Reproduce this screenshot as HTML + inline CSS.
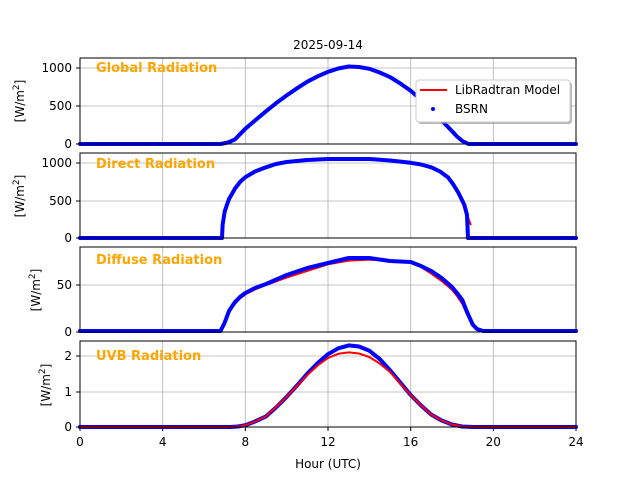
<!DOCTYPE html><html><head><style>body{margin:0;background:#fff}svg text{font-family:"DejaVu Sans","Liberation Sans",sans-serif}polyline{stroke-linejoin:round;stroke-linecap:round}</style></head><body>
<svg width="640" height="480" xmlns="http://www.w3.org/2000/svg">
<defs>
<g id="vg" stroke="#b0b0b0" stroke-width="0.8"><line x1="162.7" y1="0" x2="162.7" y2="86"/><line x1="245.3" y1="0" x2="245.3" y2="86"/><line x1="328" y1="0" x2="328" y2="86"/><line x1="410.7" y1="0" x2="410.7" y2="86"/><line x1="493.3" y1="0" x2="493.3" y2="86"/></g>
</defs>
<text x="328" y="49" font-size="12" text-anchor="middle">2025-09-14</text>
<!-- panel 1 -->
<g>
<use href="#vg" transform="translate(0,58)"/>
<g stroke="#b0b0b0" stroke-width="0.8"><line x1="80" x2="576" y1="68" y2="68"/><line x1="80" x2="576" y1="106" y2="106"/></g>
<polyline fill="none" stroke="red" stroke-width="2" points="80,144 220.5,144 228,142.5 235,139.4 245.3,128.8 255.6,120 266,111.3 276.3,103 286.7,95.4 297,88.3 307.3,81.7 317.7,76.3 328,71.8 338.3,68.5 348.7,66.5 359,67 369.3,68.8 379.7,72.5 390,77.1 400.3,83.5 410.7,90.8 421,99.8 431.3,109.8 441.7,120.5 452,131.1 457,136.5 462.3,141 468.5,144 576,144"/>
<polyline fill="none" stroke="blue" stroke-width="4" points="80,144 220.5,144 228,142.5 235,139.4 245.3,128.8 255.6,120 266,111.3 276.3,103 286.7,95.4 297,88.3 307.3,81.7 317.7,76.3 328,71.8 338.3,68.5 348.7,66.5 359,67 369.3,68.8 379.7,72.5 390,77.1 400.3,83.5 410.7,90.8 421,99.8 431.3,109.8 441.7,120.5 452,131.1 457,136.5 462.3,141 468.5,144 576,144"/>
<rect x="80" y="58" width="496" height="86" fill="none" stroke="#000" stroke-width="1"/>
<text x="96" y="72" font-size="13" font-weight="bold" fill="orange">Global Radiation</text>
<g font-size="12" text-anchor="end"><text x="72" y="72">1000</text><text x="72" y="110">500</text><text x="72" y="148">0</text></g>
<g stroke="#000"><line x1="76" x2="80" y1="68" y2="68"/><line x1="76" x2="80" y1="106" y2="106"/><line x1="76" x2="80" y1="144" y2="144"/></g>
<text transform="translate(24,101) rotate(-90)" font-size="12" text-anchor="middle">[W/m<tspan dy="-5" font-size="9">2</tspan><tspan dy="5">]</tspan></text>
<rect x="418" y="82" width="154" height="42" rx="3" fill="#888" opacity="0.6"/>
<rect x="416" y="80" width="154" height="42" rx="3" fill="#fff" stroke="#ccc"/>
<line x1="420" x2="447" y1="90" y2="90" stroke="red" stroke-width="2"/>
<circle cx="433" cy="109" r="2" fill="blue"/>
<text x="455" y="94" font-size="12">LibRadtran Model</text>
<text x="455" y="113" font-size="12">BSRN</text>
</g>
<!-- panel 2 -->
<g>
<use href="#vg" transform="translate(0,153)"/>
<g stroke="#b0b0b0" stroke-width="0.8"><line x1="80" x2="576" y1="163" y2="163"/><line x1="80" x2="576" y1="201" y2="201"/></g>
<polyline fill="none" stroke="red" stroke-width="2" points="222.6,220.5 224.7,211.4 229,199 235,188.6 240,182 245.3,177.2 255,171.5 266,167.3 276,164 286.7,162 307,160 328,159 369.3,159 390,160.5 410.7,162.8 421,164.5 431.3,167.3 440,171.5 447.9,177.2 453,184 458.2,192.4 464.4,207.6 470.6,224.3"/>
<polyline fill="none" stroke="blue" stroke-width="4" points="80,238 222,238 222.6,225 224.7,211.4 229,199 235,188.6 240,182 245.3,177.2 255,171.5 266,167.3 276,164 286.7,162 307,160 328,159 369.3,159 390,160.5 410.7,162.8 421,164.5 431.3,167.3 440,171.5 447.9,177.2 453,184 458.2,192.4 464.4,205 467,215 468,238 576,238"/>
<rect x="80" y="153" width="496" height="85" fill="none" stroke="#000"/>
<text x="96" y="168" font-size="13" font-weight="bold" fill="orange">Direct Radiation</text>
<g font-size="12" text-anchor="end"><text x="72" y="167">1000</text><text x="72" y="205">500</text><text x="72" y="242">0</text></g>
<g stroke="#000"><line x1="76" x2="80" y1="163" y2="163"/><line x1="76" x2="80" y1="201" y2="201"/><line x1="76" x2="80" y1="238" y2="238"/></g>
<text transform="translate(24,196) rotate(-90)" font-size="12" text-anchor="middle">[W/m<tspan dy="-5" font-size="9">2</tspan><tspan dy="5">]</tspan></text>
</g>
<!-- panel 3 -->
<g>
<use href="#vg" transform="translate(0,247)"/>
<g stroke="#b0b0b0" stroke-width="0.8"><line x1="80" x2="576" y1="285" y2="285"/></g>
<polyline fill="none" stroke="red" stroke-width="2" points="80,332 220.5,332 224.7,322.6 229,312 235,303.8 240,298.5 245.3,294.4 255,289.5 266,285 286.7,277.5 307.3,270.9 328,264.3 348.7,260.6 369.3,259.6 390,260.6 410.7,262.4 421,267 431.3,273.7 441.7,281 452,289.7 457,296 462.3,303.8 467,314 472.7,324.5 477,329 483,331 576,332"/>
<polyline fill="none" stroke="blue" stroke-width="4" points="80,331 220.5,331 224.7,322.6 229,311 235,302 240,297 245.3,293 255,288 266,284 286.7,275 307.3,268 328,263 348.7,258 369.3,258 390,261 410.7,262 421,266 431.3,271 441.7,278 452,287 457,293 462.3,300 467,312 472.7,324.5 477,329 483,331 576,331"/>
<rect x="80" y="247" width="496" height="85" fill="none" stroke="#000"/>
<text x="96" y="264" font-size="13" font-weight="bold" fill="orange">Diffuse Radiation</text>
<g font-size="12" text-anchor="end"><text x="72" y="289">50</text><text x="72" y="336">0</text></g>
<g stroke="#000"><line x1="76" x2="80" y1="285" y2="285"/><line x1="76" x2="80" y1="332" y2="332"/></g>
<text transform="translate(40,290) rotate(-90)" font-size="12" text-anchor="middle">[W/m<tspan dy="-5" font-size="9">2</tspan><tspan dy="5">]</tspan></text>
</g>
<!-- panel 4 -->
<g>
<use href="#vg" transform="translate(0,341)"/>
<g stroke="#b0b0b0" stroke-width="0.8"><line x1="80" x2="576" y1="356" y2="356"/><line x1="80" x2="576" y1="392" y2="392"/></g>
<polyline fill="none" stroke="blue" stroke-width="4" points="80,427 230,427 238,426.5 245.3,425.2 255,421.5 266,416.4 276,407.5 286.7,396.8 297,385.5 307.3,373.7 317.7,363 328,354.2 338.3,348.3 348.7,345.4 359,346.5 369.3,350.7 379.7,359 390,370.2 400.3,382.5 410.7,395 421,405.5 431.3,414.6 441.7,420.5 452,424.5 462,426.5 472.7,427 576,427"/>
<polyline fill="none" stroke="red" stroke-width="2" points="80,427 230,427 238,426.5 245.3,425.2 255,421.5 266,416.4 276,407 286.7,396.8 297,386 307.3,375 317.7,365.5 328,358 338.3,353.8 348.7,352.4 359,353.5 369.3,357 379.7,363.5 390,372 400.3,383.5 410.7,395 421,405.5 431.3,414.6 441.7,420.5 452,424.5 462,426.5 472.7,427 576,427"/>
<rect x="80" y="341" width="496" height="86" fill="none" stroke="#000"/>
<text x="96" y="360" font-size="13" font-weight="bold" fill="orange">UVB Radiation</text>
<g font-size="12" text-anchor="end"><text x="72" y="360">2</text><text x="72" y="396">1</text><text x="72" y="431">0</text></g>
<g stroke="#000"><line x1="76" x2="80" y1="356" y2="356"/><line x1="76" x2="80" y1="392" y2="392"/><line x1="76" x2="80" y1="427" y2="427"/></g>
<text transform="translate(50,385) rotate(-90)" font-size="12" text-anchor="middle">[W/m<tspan dy="-5" font-size="9">2</tspan><tspan dy="5">]</tspan></text>
<g stroke="#000"><line x1="80" x2="80" y1="427" y2="431"/><line x1="162.7" x2="162.7" y1="427" y2="431"/><line x1="245.3" x2="245.3" y1="427" y2="431"/><line x1="328" x2="328" y1="427" y2="431"/><line x1="410.7" x2="410.7" y1="427" y2="431"/><line x1="493.3" x2="493.3" y1="427" y2="431"/><line x1="576" x2="576" y1="427" y2="431"/></g>
<g font-size="12" text-anchor="middle"><text x="80" y="446">0</text><text x="162.7" y="446">4</text><text x="245.3" y="446">8</text><text x="328" y="446">12</text><text x="410.7" y="446">16</text><text x="493.3" y="446">20</text><text x="576" y="446">24</text></g>
<text x="328" y="468" font-size="12" text-anchor="middle">Hour (UTC)</text>
</g>
</svg>
</body></html>
